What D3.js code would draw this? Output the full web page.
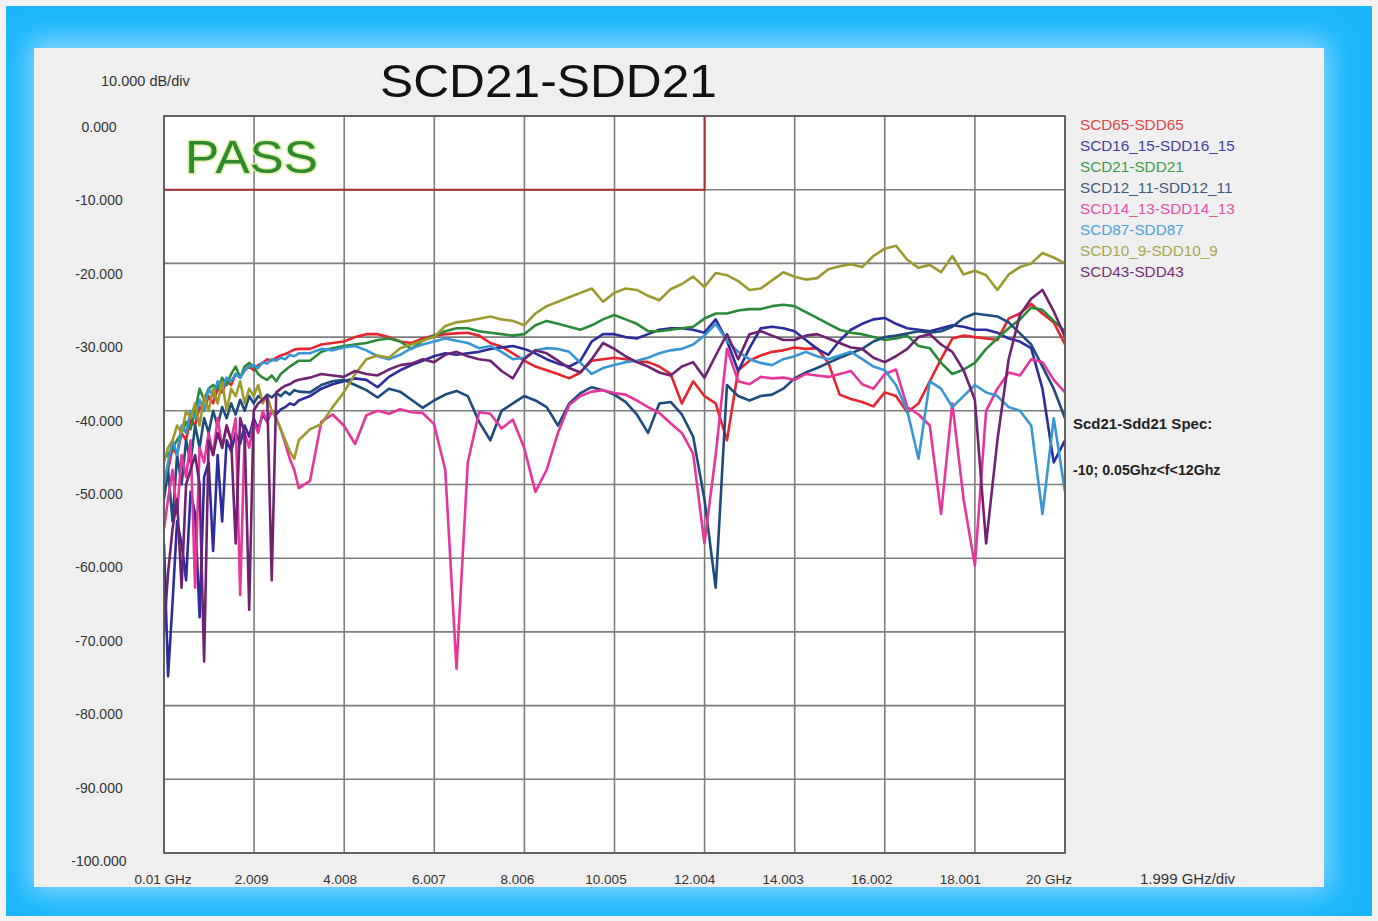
<!DOCTYPE html>
<html><head><meta charset="utf-8">
<script src="https://cdn.jsdelivr.net/npm/d3@7"></script>
<style>
body{margin:0;background:#f2f2f2;}
svg{display:block;font-family:"Liberation Sans",Arial,sans-serif;}
</style>
</head><body>
<svg id="c" width="1378" height="921"></svg>
<script>
// ---------- DATA ----------
const freqs = [0.01,0.1,0.2,0.3,0.4,0.5,0.6,0.7,0.8,0.9,1.0,1.1,1.2,1.3,1.4,1.5,1.6,1.7,1.8,1.9,2.0,2.1,2.2,2.3,2.4,2.5,2.6,2.7,2.8,2.9,3.0,
 3.25,3.5,3.75,4,4.25,4.5,4.75,5,5.25,5.5,5.75,6,6.25,6.5,6.75,7,7.25,7.5,7.75,8,8.25,8.5,8.75,9,9.25,9.5,9.75,10,10.25,10.5,10.75,11,11.25,11.5,11.75,12,12.25,12.5,12.75,13,13.25,13.5,13.75,14,14.25,14.5,14.75,15,15.25,15.5,15.75,16,16.25,16.5,16.75,17,17.25,17.5,17.75,18,18.25,18.5,18.75,19,19.25,19.5,19.75,20];

const scd65 = [-50,-48,-45,-46,-43,-44,-41,-42,-39.5,-40,-38,-39,-37,-37.5,-36,-36.5,-35,-35.5,-34.5,-34,-34.5,-33.8,-33.5,-33,-33.2,-32.8,-32.5,-32.3,-32,-31.7,-31.6,
 -31.6,-31,-30.8, -30.6,-30,-29.6,-29.6, -30,-30.6,-30.8,-30.2, -29.8,-29.6,-29.5,-29.4, -29.8,-30.8,-31.3,-32.2, -33.2,-34,-34.5,-35, -35.6,-34.8,-33.2,-33, -32.8,-33,-33.3,-33.4, -34,-35,-39,-36, -38,-39,-44,-34.5, -33.2,-32.5,-32,-31.8, -31.4,-31.6,-31.5,-33.5, -37.8,-38.4,-38.8,-39.4, -37.5,-38,-40.2,-39, -36,-33,-30.2,-29.8, -30,-30.2,-30.4,-27.5, -26.8,-25.5,-26.8,-28, -31];

const scd16_15 = [-58,-76,-66,-55,-58,-63,-51,-54,-68,-49,-47,-59,-46,-55,-44,-45.5,-43,-44.5,-42,-43.5,-41,-42.5,-40.5,-41.5,-40,-40.5,-39.8,-39.5,-39,-39.2,-38.6,
 -38,-37,-36.4, -36,-35.6,-35.8,-36.8, -35.4,-34.5,-33.8,-33.2, -32.6,-32.2,-32.4,-32.2, -32,-31.6,-31.4,-31.2, -31.6,-32.2,-33,-33.6, -34,-33.2,-30.6,-29.6, -29.6,-30,-30.2,-29.6, -29,-28.8,-28.8,-29, -29.4,-27.6,-30.5,-34.6, -31.5,-28.8,-28.6,-28.8, -29.2,-30.4,-31.6,-32.4, -30.5,-29,-28.2,-27.6, -27.4,-28.2,-28.8,-29, -29.2,-28.8,-28.4,-28.6, -29,-29,-29.4,-30.2, -30.6,-31.5,-37,-47, -44];

const scd21 = [-46.5,-46,-45,-44,-43,-41.5,-42.5,-40,-37,-38.5,-37,-36.5,-37,-35.5,-36.5,-35,-34,-35.5,-34,-33.5,-34,-35,-35.5,-35.8,-35.2,-36,-35,-34.5,-34,-33.6,-33.2,
 -33.2,-32,-31.5, -31.2,-31,-30.8,-30.4, -30.2,-30.6,-31.6,-30.5, -29.8,-29.2,-28.8,-28.8, -29.2,-29.4,-29.6,-29.8, -29.6,-28.4,-27.8,-28.2, -28.6,-29,-28.4,-27.6, -27,-27.6,-28.2,-29.2, -29.2,-29,-28.8,-28.6, -27.5,-26.8,-26.8,-26.4, -26.2,-26.2,-25.8,-25.6, -25.8,-26.6,-27.4,-28.2, -29,-29.4,-29.6,-30, -30.4,-30.2,-29.8,-31.2, -31.5,-33.5,-35,-34.4, -33.5,-31.6,-30.2,-28.8, -27.6,-26,-26.3,-27.8, -29.2];

const scd12_11 = [-52,-48,-55,-46,-50,-44,-47,-42,-45,-41,-43,-40,-42,-39.5,-41,-39,-40.5,-38.5,-40,-38,-39,-38,-38.5,-37.8,-38.2,-37.6,-38,-37.4,-37.8,-37.2,-37.4,
 -37.5,-36.5,-36, -35.8,-36.5,-37.2,-38.2, -37,-37.4,-38.5,-39.6, -38.6,-37.8,-37.3,-38, -41.5,-44,-40,-39, -38,-38.6,-39.5,-42, -39,-37.6,-36.8,-37.2, -37.8,-38.8,-40.5,-43, -39,-38.8,-40.5,-43.5, -52,-64,-36.5,-38, -38.6,-38,-37.8,-37, -35.6,-34.8,-34.2,-33.5, -32.8,-32.2,-31.6,-30.6, -30,-29.8,-29.5,-29.2, -29.4,-29.2,-28.6,-27.4, -26.8,-27,-27.2,-28, -29.5,-31,-34,-37, -41];

const scd14_13 = [-56,-52,-48,-54,-46,-49,-44,-64,-45,-47,-43,-46,-41,-45,-42,-44,-41,-65,-43,-45,-41.5,-43,-40,-41.5,-40,-41,-42.5,-44.5,-46.5,-48,-50.5,
 -49.5,-41.5,-40.5, -42,-44.5,-40.6,-40, -40.4,-39.8,-40.2,-40.3, -41.8,-48,-75,-47, -40.2,-40.4,-42.4,-41.2, -45,-51,-48,-43, -39.2,-38,-37.4,-37.2, -37.6,-37.8,-38.6,-39.5, -40.3,-41.7,-43,-45.8, -58,-46,-31.6,-36, -36.4,-35.4,-35.6,-35.5, -35.8,-35,-35.2,-35.4, -35,-34.6,-36.4,-37, -35,-34.4,-39.5,-40.5, -42,-54,-39,-52, -61,-40,-37,-34.8, -35.2,-33,-33.4,-35.8, -37.5];

const scd87 = [-50,-47,-44,-46,-42,-43,-40,-41,-38.5,-40,-37,-38,-36,-37,-35.5,-36,-35,-35.5,-34.5,-34,-33.8,-34.2,-33.4,-33.6,-33,-33.2,-32.8,-33,-32.4,-32.6,-32.2,
 -32.2,-31.6,-31.8, -31.4,-31.2,-31.8,-32.6, -33,-32.4,-31.5,-31, -30.6,-30.2,-30.5,-30.8, -31.5,-31.2,-32,-33, -32.8,-31.8,-31.5,-31.6, -32,-33.5,-35,-34.2, -33.8,-33.4,-33.2,-32.8, -32.2,-31.8,-31.6,-31, -29.8,-28.2,-30.5,-32, -33,-33.5,-33.8,-33, -32.6,-32,-32.6,-33, -32.5,-32,-33,-34, -34.5,-36.5,-40,-46.5, -36,-37,-39.5,-38, -36.5,-37.5,-38,-39.5, -40,-42,-54,-41, -51];

const scd10_9 = [-47,-45,-44,-42,-43,-40,-41,-39,-42,-38,-40,-37,-39,-36,-40,-37,-38,-36,-39,-37,-38,-36.5,-39,-38,-40,-41,-42.5,-44,-45.5,-46.5,-44,
 -42.5,-41.8,-39.5, -37.5,-35,-33,-32.5, -32.8,-31.5,-31,-30.5, -30,-28.5,-28,-27.8, -27.5,-27.2,-27.6,-27.8, -28.4,-26.8,-25.8,-25.2, -24.6,-24,-23.4,-25.2, -24,-23.4,-23.6,-24.4, -25,-23.5,-22.8,-21.8, -23.2,-21.3,-21.6,-22.4, -23.6,-23.4,-22.3,-21.2, -21.8,-22.2,-22,-20.8, -20.4,-20.1,-20.5,-19, -18,-17.6,-19.5,-20.6, -20.2,-21.2,-19,-21.5, -21,-21.6,-23.6,-21.5, -20.5,-20,-18.6,-19.2, -20];

const scd43 = [-70,-62,-56,-52,-64,-50,-48,-46,-50,-74,-44,-46,-43,-45,-42,-44,-58,-41,-43,-67,-40,-39,-38.5,-38,-63,-37.5,-37,-36.6,-36.4,-36,-35.8,
 -35.5,-35,-35.2, -35.4,-34.6,-35,-35.2, -34.4,-33.8,-33.6,-33, -33.4,-32.4,-32,-32.6, -33,-33.2,-34.6,-35.6, -33,-31.8,-32.2,-33.2, -34.2,-34.8,-33,-30.8, -31.6,-32.6,-33.4,-34, -34.8,-35.2,-34,-33.4, -35.5,-32.5,-29.6,-33, -29.6,-29.2,-29.8,-30.4, -30.4,-29.8,-29.6,-30.2, -30.8,-31.4,-31.6,-32.8, -33.4,-32.6,-31.6,-30, -29.6,-31,-32,-34.5, -38.5,-58,-44,-33, -27,-24.8,-23.6,-26.5, -30];

const seriesNames = ["SCD65-SDD65","SCD16_15-SDD16_15","SCD21-SDD21","SCD12_11-SDD12_11","SCD14_13-SDD14_13","SCD87-SDD87","SCD10_9-SDD10_9","SCD43-SDD43"];
const seriesValues = [scd65, scd16_15, scd21, scd12_11, scd14_13, scd87, scd10_9, scd43];
const lineColors = ["#e6262e","#2c2c9c","#2a8a38","#1d4b7c","#e6369c","#3796d4","#9c9a2e","#6e2272"];
const legendColors = ["#d9474a","#40409e","#3e9a4c","#3c5a80","#e052ae","#4da2da","#a8a64e","#733274"];

const xTicks = [0.01,2.009,4.008,6.007,8.006,10.005,12.004,14.003,16.002,18.001,20];
const xTickLabels = ["0.01 GHz","2.009","4.008","6.007","8.006","10.005","12.004","14.003","16.002","18.001","20 GHz"];
const yTicks = [0,-10,-20,-30,-40,-50,-60,-70,-80,-90,-100];
const yTickLabels = ["0.000","-10.000","-20.000","-30.000","-40.000","-50.000","-60.000","-70.000","-80.000","-90.000","-100.000"];
const specLimit = -10, specFStart = 0.05, specFEnd = 12.004;

// ---------- DRAW ----------
const svg = d3.select("#c");
const defs = svg.append("defs");
const f = defs.append("filter").attr("id","glow").attr("x","-10%").attr("y","-10%").attr("width","120%").attr("height","120%");
f.append("feGaussianBlur").attr("stdDeviation",14);
defs.append("clipPath").attr("id","plotclip").append("rect")
  .attr("x",164).attr("y",116).attr("width",901).attr("height",737);

// frame
svg.append("rect").attr("x",6).attr("y",6).attr("width",1366).attr("height",910).attr("fill","#1cb5fc");
svg.append("rect").attr("x",30).attr("y",40).attr("width",1298).attr("height",852).attr("fill","#8fdcff").attr("filter","url(#glow)");
svg.append("rect").attr("x",34).attr("y",48).attr("width",1290).attr("height",839).attr("fill","#efefef");

const x = d3.scaleLinear().domain([0.01,20]).range([164,1065]);
const y = d3.scaleLinear().domain([-100,0]).range([853,116]);
const xl = d3.scaleLinear().domain([0.01,20]).range([163,1049]);
const yl = d3.scaleLinear().domain([-100,0]).range([866,132]);

// plot bg
svg.append("rect").attr("x",x(0.01)).attr("y",y(0)).attr("width",x(20)-x(0.01)).attr("height",y(-100)-y(0)).attr("fill","#ffffff");

// grid
const g = svg.append("g");
g.selectAll("line.v").data(xTicks).join("line").attr("class","v")
  .attr("x1",d=>x(d)).attr("x2",d=>x(d)).attr("y1",y(0)).attr("y2",y(-100))
  .attr("stroke","#7d7d7d").attr("stroke-width",1.6);
g.selectAll("line.h").data(yTicks).join("line").attr("class","h")
  .attr("x1",x(0.01)).attr("x2",x(20)).attr("y1",d=>y(d)).attr("y2",d=>y(d))
  .attr("stroke","#7d7d7d").attr("stroke-width",1.6);

// spec limit
svg.append("path")
  .attr("d",`M${x(0.01)},${y(specLimit)}H${x(specFEnd)}V${y(0)}`)
  .attr("fill","none").attr("stroke","#a82a2a").attr("stroke-width",2);

// traces
const line = d3.line().x((d,i)=>x(freqs[i])).y(d=>y(d));
const tg = svg.append("g").attr("clip-path","url(#plotclip)");
seriesValues.forEach((vals,k)=>{
  tg.append("path").attr("d",line(vals)).attr("fill","none")
    .attr("stroke",lineColors[k]).attr("stroke-width",2.6).attr("stroke-linejoin","round");
});

// plot border
svg.append("rect").attr("x",x(0.01)).attr("y",y(0)).attr("width",x(20)-x(0.01)).attr("height",y(-100)-y(0))
  .attr("fill","none").attr("stroke","#555").attr("stroke-width",1.6);

// PASS
svg.append("text").attr("x",185).attr("y",173).attr("font-size",47).attr("textLength",133).attr("lengthAdjust","spacingAndGlyphs")
  .attr("fill","#2f8a2f").attr("stroke","#dff0a8").attr("stroke-width",3).attr("paint-order","stroke").text("PASS");

// axes labels
svg.selectAll("text.xt").data(xTicks).join("text").attr("class","xt")
  .attr("x",d=>xl(d)).attr("y",884).attr("text-anchor","middle").attr("font-size",13.5).attr("fill","#333")
  .text((d,i)=>xTickLabels[i]);
svg.selectAll("text.yt").data(yTicks).join("text").attr("class","yt")
  .attr("x",99).attr("y",d=>yl(d)).attr("text-anchor","middle").attr("font-size",14).attr("fill","#333")
  .text((d,i)=>yTickLabels[i]);

svg.append("text").attr("x",101).attr("y",86).attr("font-size",14.5).attr("fill","#333").text("10.000 dB/div");
svg.append("text").attr("x",1140).attr("y",884).attr("font-size",15).attr("fill","#333").text("1.999 GHz/div");

// title
svg.append("text").attr("x",380).attr("y",97).attr("font-size",47).attr("textLength",337).attr("lengthAdjust","spacingAndGlyphs")
  .attr("fill","#111").text("SCD21-SDD21");

// legend
svg.selectAll("text.lg").data(seriesNames).join("text").attr("class","lg")
  .attr("x",1080).attr("y",(d,i)=>130+i*21).attr("font-size",15.3).attr("fill",(d,i)=>legendColors[i])
  .text(d=>d);

// spec text
svg.append("text").attr("x",1073).attr("y",429).attr("font-size",15).attr("font-weight","bold").attr("fill","#222").text("Scd21-Sdd21 Spec:");
svg.append("text").attr("x",1073).attr("y",475).attr("font-size",14.2).attr("font-weight","bold").attr("fill","#222").text("-10; 0.05Ghz<f<12Ghz");
</script>
</body></html>
